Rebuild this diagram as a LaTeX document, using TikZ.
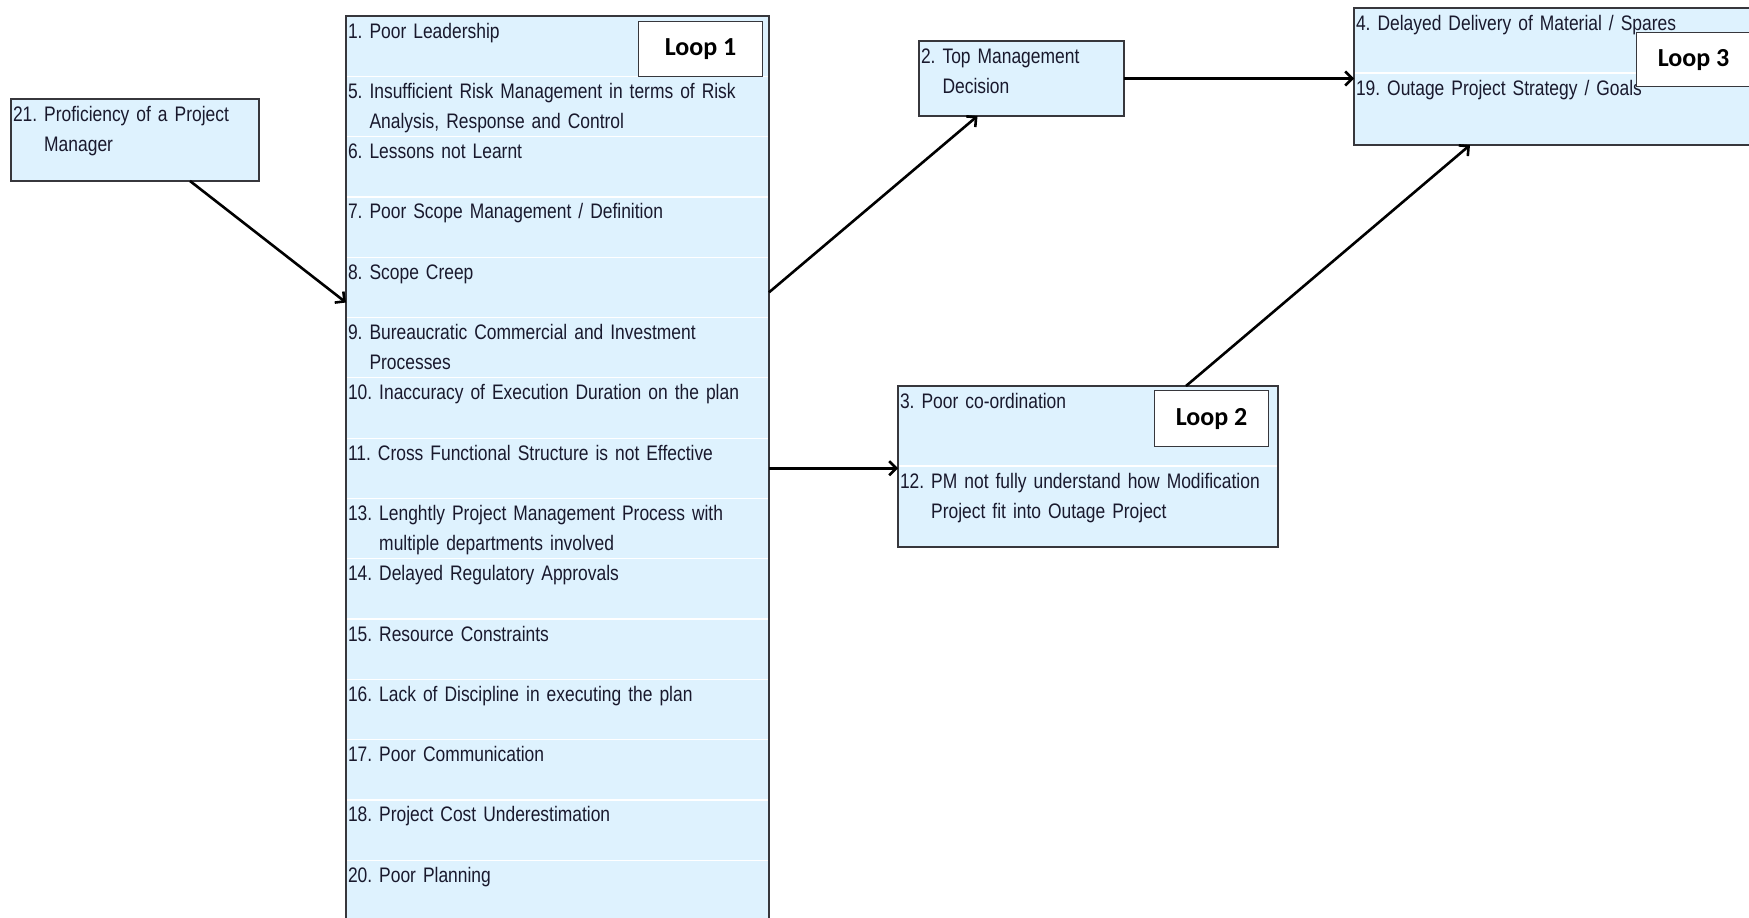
\documentclass[tikz,border=0pt]{standalone}
\usepackage{fontspec}
\setmainfont{Liberation Sans}[FakeStretch=0.83]
\newfontfamily\loopfont{Carlito}
\usetikzlibrary{positioning, fit}
\usetikzlibrary{arrows.meta}
\frenchspacing

\definecolor{cellblue}{RGB}{222,242,254}
\definecolor{edgegray}{RGB}{55,55,60}
\definecolor{ink}{RGB}{25,25,45}

\begin{document}
\begin{tikzpicture}[x=1pt, y=-1pt,
  cell/.style={fill=cellblue, draw=white, line width=1.2pt, anchor=north west, outer sep=0pt,
    inner xsep=2pt, inner ysep=0pt, align=left, text height=22pt, text=ink,
    font=\fontsize{21}{30}\selectfont},
  row/.style={cell, below=0pt of #1, text width=419pt, text depth=38.3pt},
  frame/.style={draw=edgegray, line width=1.5pt, inner sep=0pt, outer sep=0pt},
  loopbox/.style={draw=edgegray, fill=white, line width=1.2pt, anchor=north west,
    inner sep=0pt, font=\loopfont\bfseries\fontsize{26}{26}\selectfont},
  arr/.style={line width=2.6pt, -{Straight Barb[length=7pt,width=14pt]}}]
\useasboundingbox (0,0) rectangle (1749,918);

% loop 1
\node[cell, text width=419pt, text depth=38.3pt] (r1) at (346,16) {1. Poor Leadership};
\node[row=r1] (r5) {5. Insufficient Risk Management in terms of Risk\\\phantom{5.~}Analysis, Response and Control};
\node[row=r5] (r6) {6. Lessons not Learnt};
\node[row=r6] (r7) {7. Poor Scope Management / Definition};
\node[row=r7] (r8) {8. Scope Creep};
\node[row=r8] (r9) {9. Bureaucratic Commercial and Investment\\\phantom{9.~}Processes};
\node[row=r9] (r10) {10. Inaccuracy of Execution Duration on the plan};
\node[row=r10] (r11) {11. Cross Functional Structure is not Effective};
\node[row=r11] (r13) {13. Lenghtly Project Management Process with\\\phantom{13.~}multiple departments involved};
\node[row=r13] (r14) {14. Delayed Regulatory Approvals};
\node[row=r14] (r15) {15. Resource Constraints};
\node[row=r15] (r16) {16. Lack of Discipline in executing the plan};
\node[row=r16] (r17) {17. Poor Communication};
\node[row=r17] (r18) {18. Project Cost Underestimation};
\node[row=r18] (r20) {20. Poor Planning};
\node[frame, fit=(r1)(r20)] (loop1) {};
\node[loopbox, minimum width=124pt, minimum height=55pt] (lbl1) at (638,21) {Loop 1};

\node[cell, draw=edgegray, line width=1.5pt, text width=244pt, text depth=60pt] (b21) at (11,99)
  {21. Proficiency of a Project\\\phantom{21.~}Manager};
\node[cell, draw=edgegray, line width=1.5pt, text width=201pt, text depth=53pt] (b2) at (919,41)
  {2. Top Management\\\phantom{2.~}Decision};

% loop 2
\node[cell, text width=376pt, text depth=58pt] (r3) at (898,386) {3. Poor co-ordination};
\node[cell, below=0pt of r3, text width=376pt, text depth=59pt] (r12)
  {12. PM not fully understand how Modification\\\phantom{12.~}Project fit into Outage Project};
\node[frame, fit=(r3)(r12)] (loop2) {};
\node[loopbox, minimum width=114pt, minimum height=56pt] (lbl2) at (1154,390) {Loop 2};

% loop 3
\node[cell, text width=442pt, text depth=43pt] (r4) at (1354,8) {4. Delayed Delivery of Material / Spares};
\node[cell, below=0pt of r4, text width=442pt, text depth=50pt] (r19) {19. Outage Project Strategy / Goals};
\node[frame, fit=(r4)(r19)] (loop3) {};
\node[loopbox, minimum width=114pt, minimum height=54pt] (lbl3) at (1636,32) {Loop 3};

\draw[arr] ([xshift=55pt]b21.south) -- ([yshift=15pt]r8.south west);
\draw[arr] ([yshift=-5pt]r8.east) -- ([xshift=-44pt]b2.south);
\draw[arr] (r11.east) -- (r11.east -| r12.west);
\draw[arr] (b2.east) -- (b2.east -| r4.west);
\draw[arr] ([xshift=98pt]r3.north) -- ([xshift=116pt]r19.south west);
\end{tikzpicture}
\end{document}
